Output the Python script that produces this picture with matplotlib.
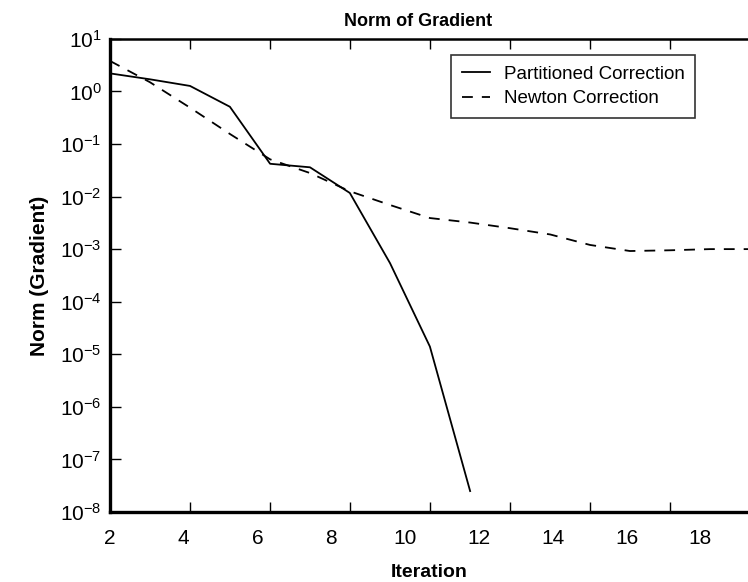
import numpy as np
import matplotlib
matplotlib.use("Agg")
import matplotlib.pyplot as plt

plt.rcParams['font.family'] = ['Liberation Sans', 'DejaVu Sans']
plt.rcParams['mathtext.fontset'] = 'custom'
plt.rcParams['mathtext.rm'] = 'Liberation Sans'
plt.rcParams['mathtext.it'] = 'Liberation Sans'

# Partitioned correction
part_x = [2.0, 3.08, 4.17, 5.25, 6.34, 7.42, 8.50, 9.59, 10.67, 11.76]
part_y = [2.2, 1.7, 1.27, 0.51, 0.042, 0.036, 0.0117, 5.4e-4, 1.4e-5, 2.5e-8]

# Newton correction
newt_x = [2.0, 3.08, 4.17, 5.25, 6.34, 7.42, 8.50, 9.59, 10.67, 11.76,
          12.84, 13.93, 15.01, 16.09, 17.18, 18.26, 19.29]
newt_y = [3.8, 1.5, 0.49, 0.155, 0.051, 0.028, 0.0126, 0.0069, 0.0039, 0.0032,
          0.0025, 0.0019, 0.0012, 0.00092, 0.00095, 0.001, 0.001]

xtick_labels = [2, 4, 6, 8, 10, 12, 14, 16, 18]
# tick marks in the scan do not sit under the labels
xtick_marks = [2.0, 4.17, 6.34, 8.50, 10.67, 12.84, 15.01, 17.18]

fig = plt.figure(figsize=(7.48, 5.82), dpi=100)
ax = fig.add_axes([0.147, 0.1203, 0.853, 0.813])

ax.semilogy(part_x, part_y, color='black', lw=1.3, label='Partitioned Correction')
ax.semilogy(newt_x, newt_y, color='black', lw=1.3, dashes=(6, 5), label='Newton Correction')

ax.set_xlim(2, 19.29)
ax.set_ylim(1e-8, 1e1)
ax.set_yticks([10.0 ** k for k in range(-8, 2)])
ax.set_yticklabels([r'$10^{%d}$' % k for k in range(-8, 2)])

ax.set_xticks(xtick_labels, labels=[str(v) for v in xtick_labels])
ax.set_xticks(xtick_marks, minor=True)
ax.tick_params(axis='x', which='major', length=0, labelsize=15, pad=12)
ax.tick_params(axis='x', which='minor', direction='in', length=7, width=1, top=True, bottom=True)
ax.tick_params(axis='y', which='major', direction='in', length=8, width=1, labelsize=15, pad=6)
ax.tick_params(axis='y', which='minor', direction='in', length=4, width=1)

ax.spines['right'].set_visible(False)
ax.spines['left'].set_linewidth(2.4)
ax.spines['bottom'].set_linewidth(2.4)
ax.spines['top'].set_linewidth(1.8)

ax.set_title('Norm of Gradient', fontsize=13, fontweight='bold', x=0.483, pad=9)
ax.set_xlabel('Iteration', fontsize=14, fontweight='bold', labelpad=12)
ax.set_ylabel('Norm (Gradient)', fontsize=15, fontweight='bold', labelpad=8)

leg = ax.legend(loc='upper right', bbox_to_anchor=(0.917, 0.965), fontsize=13.5,
                frameon=True, fancybox=False, handlelength=1.5, handletextpad=0.75,
                borderpad=0.55, labelspacing=0.4, borderaxespad=0)
leg.get_frame().set_edgecolor('black')
leg.get_frame().set_linewidth(1.2)

fig.savefig('out.png', dpi=100)
